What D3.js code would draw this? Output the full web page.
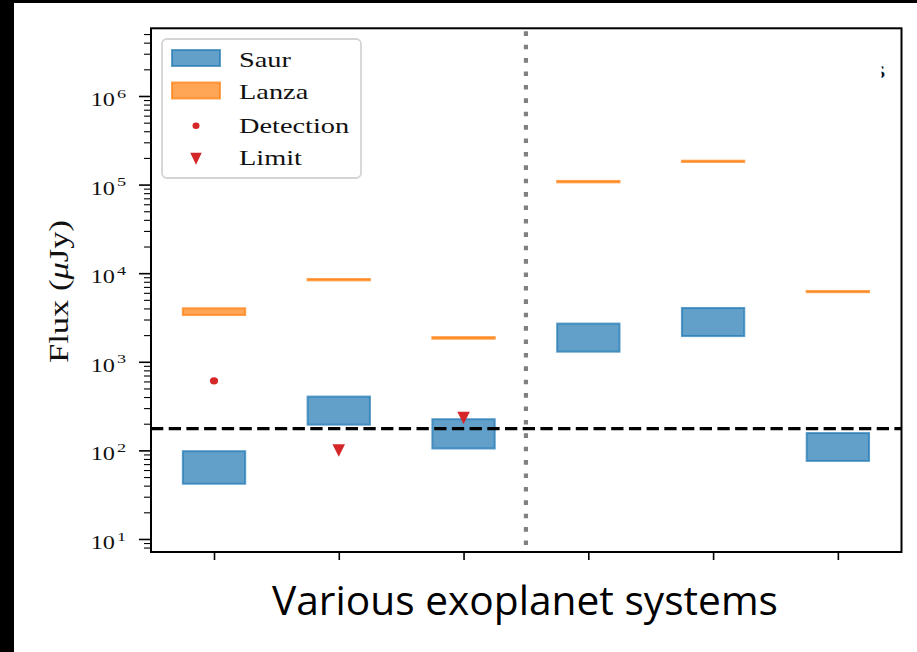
<!DOCTYPE html>
<html>
<head>
<meta charset="utf-8">
<script src="https://cdn.jsdelivr.net/npm/d3@7"></script>
<style>
  html, body { margin: 0; padding: 0; background: #000; }
  svg { display: block; }
</style>
</head>
<body>
<script>
// ---------------- data ----------------
const systems = [0, 1, 2, 3, 4, 5];
const systemTickLabels = ["", "", "", "", "", ""];
const saurLow  = [42, 195, 105, 1300, 1950, 76];
const saurHigh = [98, 405, 225, 2700, 4050, 157];
const lanzaLow  = [3370, 8300, 1820, 106000, 180000, 6100];
const lanzaHigh = [4020, 8600, 1900, 110000, 186000, 6300];
const detectionSystem = [0];
const detectionFlux   = [610];
const limitSystem = [1, 2];
const limitFlux   = [100, 232];
const sensitivityLine = 176;
const dividerPosition = 2.5;
const yMajorTicks = [1e1, 1e2, 1e3, 1e4, 1e5, 1e6];
const yTickExponents = ["1", "2", "3", "4", "5", "6"];
const legendLabels = ["Saur", "Lanza", "Detection", "Limit"];
const yLabel = "Flux (";
const yLabelMu = "μ";
const yLabelUnit = "Jy)";
const xLabel = "Various exoplanet systems";

// ---------------- layout ----------------
const W = 917, H = 652;
const pLeft = 151, pRight = 901.5, pTop = 28.3, pBottom = 552;
const serif = "'Liberation Serif', 'DejaVu Serif', serif";
const sx = 1.35; // horizontal stretch of the original figure

const svg = d3.select("body").append("svg").attr("width", W).attr("height", H);
svg.append("rect").attr("width", W).attr("height", H).attr("fill", "#000");
svg.append("rect").attr("x", 14).attr("y", 3).attr("width", W - 14).attr("height", H - 3).attr("fill", "#fff");

const x = d3.scaleLinear().domain([-0.505, 5.51]).range([pLeft, pRight]);
const y = d3.scaleLog().domain([Math.pow(10, 0.853), Math.pow(10, 6.764)]).range([pBottom, pTop]);

const blue = "#1f77b4", orange = "#ff7f0e", red = "#d62728";
const halfW = 0.25;

// clip for plot area
svg.append("clipPath").attr("id", "plotclip").append("rect")
  .attr("x", pLeft).attr("y", pTop).attr("width", pRight - pLeft).attr("height", pBottom - pTop);
const plot = svg.append("g").attr("clip-path", "url(#plotclip)");

// Saur boxes
plot.selectAll("rect.saur").data(systems).join("rect").attr("class", "saur")
  .attr("x", d => x(d - halfW)).attr("width", d => x(d + halfW) - x(d - halfW))
  .attr("y", (d, i) => y(saurHigh[i])).attr("height", (d, i) => y(saurLow[i]) - y(saurHigh[i]))
  .attr("fill", blue).attr("fill-opacity", 0.7)
  .attr("stroke", blue).attr("stroke-opacity", 0.7).attr("stroke-width", 2);

// Lanza boxes
plot.selectAll("rect.lanza").data(systems).join("rect").attr("class", "lanza")
  .attr("x", d => x(d - halfW)).attr("width", d => x(d + halfW) - x(d - halfW))
  .attr("y", (d, i) => y(lanzaHigh[i])).attr("height", (d, i) => y(lanzaLow[i]) - y(lanzaHigh[i]))
  .attr("fill", orange).attr("fill-opacity", 0.7)
  .attr("stroke", orange).attr("stroke-opacity", 0.7).attr("stroke-width", 2);

// divider (dotted)
plot.append("line")
  .attr("x1", x(dividerPosition)).attr("x2", x(dividerPosition))
  .attr("y1", pTop).attr("y2", pBottom)
  .attr("stroke", "#808080").attr("stroke-width", 4.2)
  .attr("stroke-dasharray", "4.6 8.8").attr("stroke-dashoffset", -3);

// sensitivity (dashed)
plot.append("line")
  .attr("x1", pLeft).attr("x2", pRight)
  .attr("y1", y(sensitivityLine)).attr("y2", y(sensitivityLine))
  .attr("stroke", "#000").attr("stroke-width", 3.2)
  .attr("stroke-dasharray", "12.3 5.4");

// detections
plot.selectAll("ellipse.det").data(detectionSystem).join("ellipse").attr("class", "det")
  .attr("cx", d => x(d)).attr("cy", (d, i) => y(detectionFlux[i]))
  .attr("rx", 4.1).attr("ry", 3.6).attr("fill", red);

// limits (down triangles)
const tri = (cx, cy, w, h) => `M${cx - w / 2},${cy - h / 2}L${cx + w / 2},${cy - h / 2}L${cx},${cy + h / 2}Z`;
plot.selectAll("path.lim").data(limitSystem).join("path").attr("class", "lim")
  .attr("d", (d, i) => tri(x(d), y(limitFlux[i]), 12.5, 12.5)).attr("fill", red);

// ---------------- axes ----------------
const yMinor = [];
for (let e = 0; e <= 6; e++) for (let m = 2; m <= 9; m++) {
  const v = m * Math.pow(10, e);
  if (v >= y.domain()[0] && v <= y.domain()[1]) yMinor.push(v);
}
const gyMaj = svg.append("g").attr("transform", `translate(${pLeft},0)`)
  .call(d3.axisLeft(y).tickValues(yMajorTicks).tickFormat("").tickSize(12).tickSizeOuter(0));
const gyMin = svg.append("g").attr("transform", `translate(${pLeft},0)`)
  .call(d3.axisLeft(y).tickValues(yMinor).tickFormat("").tickSize(7).tickSizeOuter(0));
const gx = svg.append("g").attr("transform", `translate(0,${pBottom})`)
  .call(d3.axisBottom(x).tickValues(systems).tickFormat((d, i) => systemTickLabels[i]).tickSize(8).tickSizeOuter(0));
[gyMaj, gyMin, gx].forEach(g => g.select(".domain").remove());
gyMaj.selectAll("line").attr("stroke", "#000").attr("stroke-width", 1.6);
gyMin.selectAll("line").attr("stroke", "#000").attr("stroke-width", 1.1);
gx.selectAll("line").attr("stroke", "#000").attr("stroke-width", 1.6);

// y tick labels 10^n
yMajorTicks.forEach((v, i) => {
  const g = svg.append("g").attr("transform", `translate(115,${y(v) + 10}) scale(${sx},1)`);
  g.append("text").attr("text-anchor", "end").attr("font-family", serif)
    .attr("font-size", 18).attr("fill", "#111").text("10");
  g.append("text").attr("x", 1.5).attr("y", -8.3).attr("font-family", serif)
    .attr("font-size", 13.5).attr("fill", "#111").text(yTickExponents[i]);
});

// y label
const yl = svg.append("text")
  .attr("transform", `translate(68,291.5) scale(1.3,1) rotate(-90)`)
  .attr("text-anchor", "middle").attr("font-family", serif).attr("font-size", 21.5)
  .attr("fill", "#111").attr("textLength", 143).attr("lengthAdjust", "spacingAndGlyphs");
yl.append("tspan").text(yLabel);
yl.append("tspan").attr("font-style", "italic").text(yLabelMu);
yl.append("tspan").text(yLabelUnit);

// frame
svg.append("rect").attr("x", pLeft).attr("y", pTop).attr("width", pRight - pLeft).attr("height", pBottom - pTop)
  .attr("fill", "none").attr("stroke", "#000").attr("stroke-width", 2);

// stray glyph at top right (partially clipped in the original)
svg.append("clipPath").attr("id", "glyphclip").append("rect")
  .attr("x", 881.5).attr("y", 55).attr("width", 8).attr("height", 30);
svg.append("g").attr("clip-path", "url(#glyphclip)")
  .append("text").attr("transform", `translate(872.5,78.3) scale(${sx},1)`)
  .attr("font-family", serif).attr("font-size", 25).attr("fill", "#111").text("s");

// ---------------- legend ----------------
const lg = svg.append("g");
lg.append("rect").attr("x", 162).attr("y", 39).attr("width", 199).attr("height", 139)
  .attr("rx", 5).attr("fill", "#fff").attr("fill-opacity", 0.85)
  .attr("stroke", "#d4d4d4").attr("stroke-width", 1.8);
const rowY = [58, 90.5, 125.7, 158.3];
lg.append("rect").attr("x", 172).attr("y", 50).attr("width", 48).attr("height", 16)
  .attr("fill", blue).attr("fill-opacity", 0.7).attr("stroke", blue).attr("stroke-opacity", 0.7).attr("stroke-width", 2);
lg.append("rect").attr("x", 172).attr("y", 82.5).attr("width", 48).attr("height", 16)
  .attr("fill", orange).attr("fill-opacity", 0.7).attr("stroke", orange).attr("stroke-opacity", 0.7).attr("stroke-width", 2);
lg.append("ellipse").attr("cx", 196).attr("cy", rowY[2]).attr("rx", 3.5).attr("ry", 3.3).attr("fill", red);
lg.append("path").attr("d", tri(196, rowY[3] + 0.5, 11.5, 12)).attr("fill", red);
const legBase = [66.7, 99.3, 132.7, 165.3];
legendLabels.forEach((t, i) => {
  lg.append("text").attr("transform", `translate(239,${legBase[i]}) scale(1.35,1)`)
    .attr("font-family", serif).attr("font-size", 21).attr("fill", "#111").text(t);
});

// x label
svg.append("text").attr("x", 525).attr("y", 615).attr("text-anchor", "middle")
  .attr("font-family", "'Open Sans', 'Liberation Sans', sans-serif").attr("font-size", 41)
  .attr("fill", "#000").attr("textLength", 506).attr("lengthAdjust", "spacingAndGlyphs")
  .text(xLabel);
</script>
</body>
</html>
